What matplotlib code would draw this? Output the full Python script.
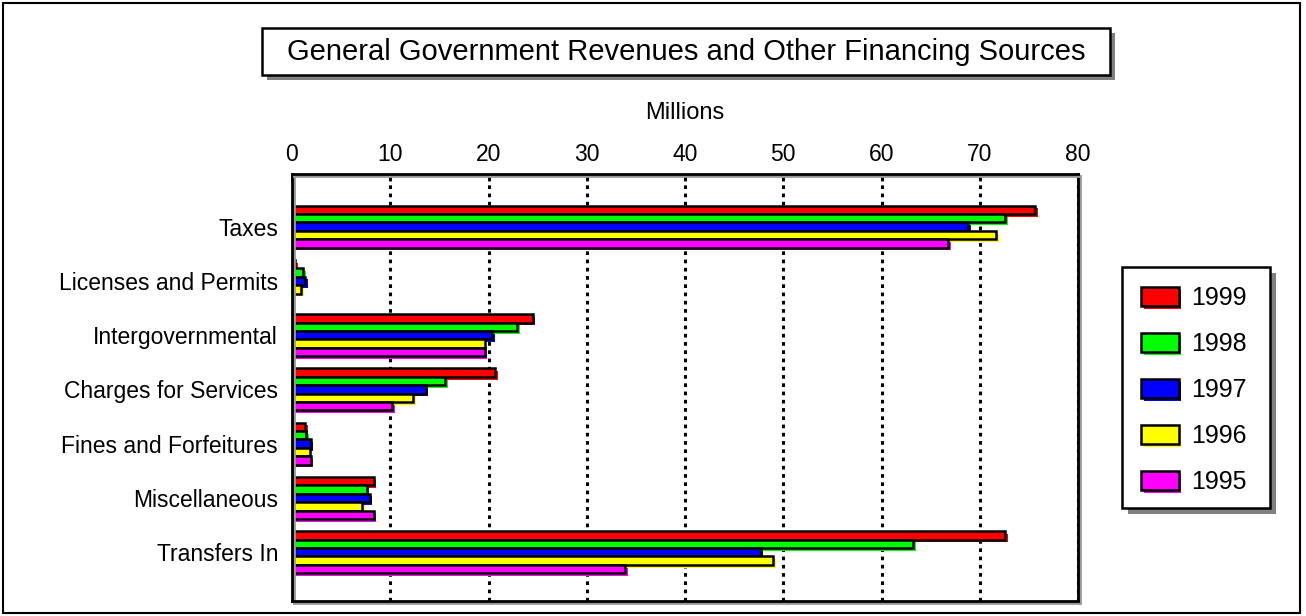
import matplotlib.pyplot as plt
import matplotlib.patheffects as pe
from matplotlib.patches import Rectangle
import numpy as np

plt.rcParams['font.family'] = ['Liberation Sans', 'DejaVu Sans']

categories = ['Taxes', 'Licenses and Permits', 'Intergovernmental', 'Charges for Services',
              'Fines and Forfeitures', 'Miscellaneous', 'Transfers In']
years = ['1999', '1998', '1997', '1996', '1995']
colors = ['#ff0000', '#00ff00', '#0000ff', '#ffff00', '#ff00ff']

v1999 = [75.6, 0.3, 24.5, 20.7, 1.3, 8.3, 72.6]
v1998 = [72.6, 1.1, 22.9, 15.6, 1.4, 7.6, 63.2]
v1997 = [68.8, 1.3, 20.4, 13.6, 1.9, 7.9, 47.7]
v1996 = [71.7, 0.9, 19.6, 12.3, 1.8, 7.1, 49.0]
v1995 = [66.8, 0.0, 19.6, 10.2, 1.9, 8.3, 33.9]
series = [v1999, v1998, v1997, v1996, v1995]

W, H = 1306, 616
fig = plt.figure(figsize=(W / 100, H / 100), dpi=100)

def fx(px):
    return px / W

def fy(py):
    return 1 - py / H

# outer frame
fig.patches.append(Rectangle((fx(3), fy(613)), fx(1300) - fx(3), fy(3) - fy(613),
                             transform=fig.transFigure, fill=False, edgecolor='black', lw=1.5))

ax = fig.add_axes([fx(292), fy(601), fx(1078) - fx(292), fy(174) - fy(601)])

y = np.arange(len(categories))
h = 0.155
bars = []
for i, (vals, c, yr) in enumerate(zip(series, colors, years)):
    b = ax.barh(y + (i - 2) * h, vals, height=h, color=c, edgecolor='black', lw=1.8, label=yr,
                path_effects=[pe.SimplePatchShadow(offset=(2, -2), shadow_rgbFace=c, alpha=1),
                              pe.Normal()])
    bars.append(b)

ax.set_xlim(0, 80)
ax.set_ylim(6.90, -0.97)
ax.set_yticks(y)
ax.set_yticklabels(categories, fontsize=16.5)
ax.tick_params(axis='y', length=0, pad=10)
ax.xaxis.tick_top()
ax.xaxis.set_label_position('top')
ax.set_xticks(np.arange(0, 81, 10))
ax.tick_params(axis='x', labelsize=16.5, length=5, width=1.8, pad=6, direction='in')
ax.set_xlabel('Millions', fontsize=17, labelpad=17)
ax.set_axisbelow(True)
ax.grid(axis='x', color='black', linestyle=(0, (1.2, 1.5)), lw=2.2)
for s in ax.spines.values():
    s.set_linewidth(2)
    s.set_path_effects([pe.SimpleLineShadow(offset=(1.5, -1.5), shadow_color='#999999', alpha=1),
                        pe.Normal()])

# title box with shadow
fig.patches.append(Rectangle((fx(267), fy(80)), fx(1115) - fx(267), fy(28) - fy(75),
                             transform=fig.transFigure, facecolor='#808080', edgecolor='none'))
fig.patches.append(Rectangle((fx(262), fy(75)), fx(1110) - fx(262), fy(28) - fy(75),
                             transform=fig.transFigure, facecolor='white', edgecolor='black', lw=1.8))
fig.text(fx(686), fy(52), 'General Government Revenues and Other Financing Sources',
         ha='center', va='center', fontsize=21)

# legend box with shadow
fig.patches.append(Rectangle((fx(1128), fy(514)), fx(1276) - fx(1128), fy(267) - fy(508),
                             transform=fig.transFigure, facecolor='#808080', edgecolor='none'))
fig.patches.append(Rectangle((fx(1122), fy(508)), fx(1270) - fx(1122), fy(267) - fy(508),
                             transform=fig.transFigure, facecolor='white', edgecolor='black', lw=1.8))
fig.legend(handles=bars, labels=years, loc='center', bbox_to_anchor=(fx(1194), fy(390)),
           frameon=False, fontsize=18, labelspacing=0.88, handlelength=1.5, handleheight=0.8,
           handletextpad=0.5)

fig.savefig('out.png', dpi=100)
